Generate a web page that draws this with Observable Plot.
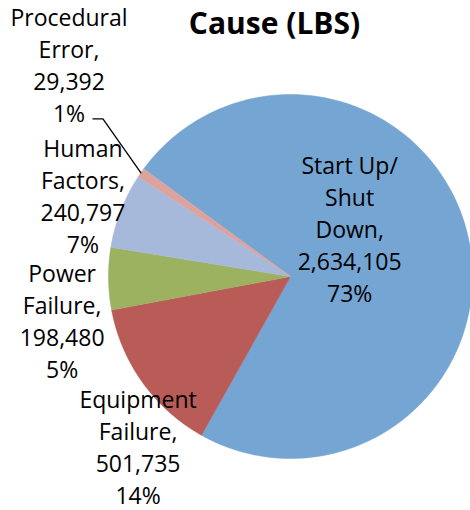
<!DOCTYPE html>
<html><head><meta charset="utf-8">
<script src="https://cdn.jsdelivr.net/npm/d3@7"></script>
<script src="https://cdn.jsdelivr.net/npm/@observablehq/plot@0.6"></script>
<style>body{margin:0;background:#fff;}</style>
</head><body><div id="chart"></div>
<script>
// ---- data ----
const categories = ["Start Up/\nShut\nDown", "Equipment\nFailure", "Power\nFailure", "Human\nFactors", "Procedural\nError"];
const values = [2634105, 501735, 198480, 240797, 29392];
const percentLabels = ["73%", "14%", "5%", "7%", "1%"]; // as printed on the chart
const colors = ["#75A5D2", "#B95B56", "#9CB260", "#A6B9DB", "#DCA29E"];
const title = "Cause (LBS)";

// ---- layout ----
const firstSliceAngle = 306.2; // degrees, clockwise from 12 o'clock
const W = 470, H = 510, cx = 290, cy = 276, R = 182;
// label placement: radius factor along slice mid-angle + pixel nudge
const labelLayout = [
  {k: 0.4, ox: -12, oy: -33},
  {k: 1.2, ox: 25, oy: 42},
  {k: 1.2, ox: -10, oy: 41},
  {k: 1.2, ox: -4, oy: -3},
  {k: 1.2, ox: -42, oy: -88}
];
const leaderFor = 4; // index of slice with a leader line

const rad = d => d * Math.PI / 180;
const arcs = d3.pie().sort(null)
  .startAngle(rad(firstSliceAngle)).endAngle(rad(firstSliceAngle + 360))(values);
const fmtN = d3.format(",");

const slices = arcs.flatMap((a, i) => {
  const n = Math.max(2, Math.ceil((a.endAngle - a.startAngle) / rad(1)));
  const pts = [{cat: categories[i], x: 0, y: 0}];
  for (let j = 0; j <= n; j++) {
    const t = a.startAngle + (a.endAngle - a.startAngle) * j / n;
    pts.push({cat: categories[i], x: Math.sin(t), y: Math.cos(t)});
  }
  return pts;
});

const labels = arcs.map((a, i) => {
  const m = (a.startAngle + a.endAngle) / 2, L = labelLayout[i];
  return {
    x: L.k * Math.sin(m) + L.ox / R,
    y: L.k * Math.cos(m) - L.oy / R,
    text: `${categories[i]},\n${fmtN(values[i])}\n${percentLabels[i]}`
  };
});

const la = arcs[leaderFor], lm = (la.startAngle + la.endAngle) / 2;
const edge = {x: Math.sin(lm), y: Math.cos(lm)};
const elbow = {x: edge.x - 38 / R, y: edge.y + 54 / R};
const leader = [{x: elbow.x - 10 / R, y: elbow.y}, elbow, edge];

const chart = Plot.plot({
  width: W, height: H, margin: 0,
  x: {domain: [-1, 1], range: [cx - R, cx + R], axis: null},
  y: {domain: [-1, 1], range: [cy + R, cy - R], axis: null},
  color: {domain: categories, range: colors},
  style: {fontFamily: "Open Sans", background: "white"},
  marks: [
    Plot.line(slices, {x: "x", y: "y", z: "cat", fill: "cat", stroke: "cat", strokeWidth: 0.5, curve: "linear-closed"}),
    Plot.line(leader, {x: "x", y: "y", stroke: "black", strokeWidth: 1.3}),
    Plot.text(labels, {x: "x", y: "y", text: "text", fontSize: 23, lineHeight: 1.39, lineAnchor: "middle", textAnchor: "middle", fill: "black"}),
    Plot.text([title], {frameAnchor: "top", text: d => d, dx: 39, dy: 12, fontSize: 30, fontWeight: "bold", lineAnchor: "top", fill: "black"})
  ]
});
document.getElementById("chart").appendChild(chart);
</script>
</body></html>
